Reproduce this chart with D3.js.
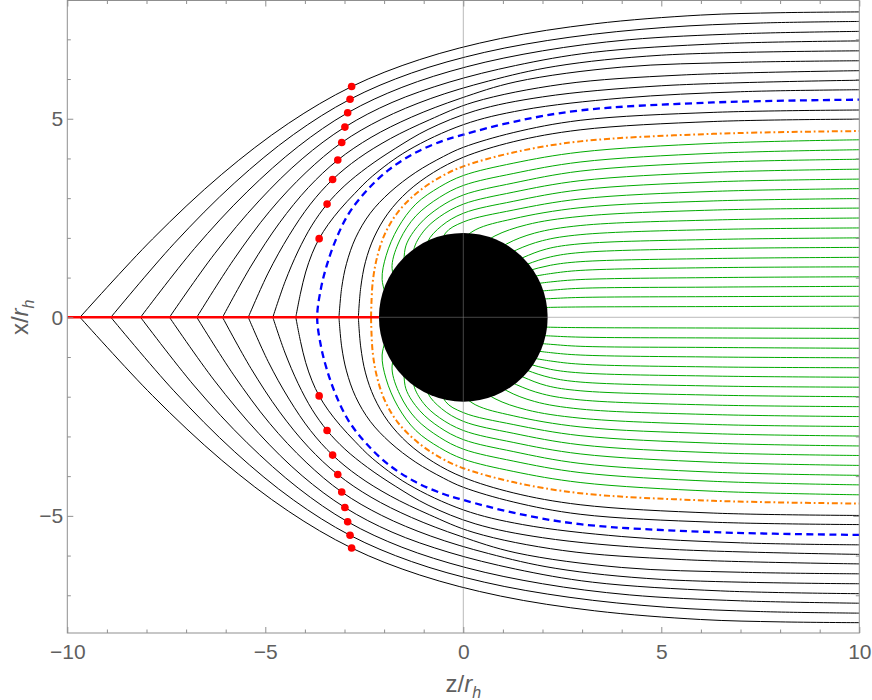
<!DOCTYPE html>
<html>
<head>
<meta charset="utf-8">
<script src="https://cdn.jsdelivr.net/npm/d3@7/dist/d3.min.js"></script>
<style>
	body { margin: 0; background: #fff; }
	text { font-family: "Liberation Sans", Arial, sans-serif; }
</style>
</head>
<body>
<div id="chart"></div>
<script>
// tick values
const zMajor = [-10, -5, 0, 5, 10];
const zMinor = [-9, -8, -7, -6, -4, -3, -2, -1, 1, 2, 3, 4, 6, 7, 8, 9];
const xMajor = [-5, 0, 5];
const xMinor = [-7, -6, -4, -3, -2, -1, 1, 2, 3, 4, 6, 7];

// shadow disk radius (z/r_h units)
const shadowRadius = 2.13;

// upper halves of the scattered rays, [z, x] (lower half is the mirror)
const outerRays = [
	[[-9.68,0],[-7.85,1.97],[-6.10,3.60],[-4.42,4.88],[-2.82,5.81],[-1.10,6.49],[0.94,7.02],[3.31,7.39],[5.99,7.61],[8,7.67],[10,7.69]],
	[[-8.90,0],[-7.31,1.85],[-5.77,3.39],[-4.29,4.60],[-2.86,5.49],[-1.31,6.15],[0.53,6.67],[2.67,7.05],[5.10,7.30],[7.5,7.41],[10,7.45]],
	[[-8.15,0],[-6.79,1.73],[-5.46,3.16],[-4.17,4.30],[-2.92,5.15],[-1.55,5.79],[0.09,6.31],[2.00,6.71],[4.19,6.99],[7,7.14],[10,7.20]],
	[[-7.42,0],[-6.28,1.60],[-5.16,2.93],[-4.07,3.99],[-2.99,4.79],[-1.80,5.41],[-0.36,5.92],[1.32,6.34],[3.26,6.67],[6.5,6.89],[10,6.96]],
	[[-6.73,0],[-5.80,1.45],[-4.89,2.67],[-3.97,3.65],[-3.07,4.40],[-2.06,4.99],[-0.82,5.51],[0.64,5.95],[2.32,6.32],[5,6.60],[10,6.71]],
	[[-6.08,0],[-5.36,1.29],[-4.64,2.38],[-3.91,3.27],[-3.17,3.96],[-2.33,4.53],[-1.31,5.04],[-0.08,5.51],[1.33,5.93],[4,6.30],[7,6.42],[10,6.46]],
	[[-5.43,0],[-4.93,1.11],[-4.40,2.06],[-3.86,2.85],[-3.30,3.47],[-2.65,4.00],[-1.84,4.50],[-0.86,4.97],[0.27,5.42],[2.5,5.87],[5.5,6.10],[10,6.21]],
	[[-4.81,0],[-4.50,0.90],[-4.17,1.67],[-3.82,2.32],[-3.44,2.85],[-2.99,3.32],[-2.42,3.78],[-1.72,4.25],[-0.89,4.73],[0.3,5.2],[2.0,5.55],[5,5.83],[10,5.97]],
	[[-4.23,0],[-4.11,0.61],[-3.98,1.14],[-3.82,1.60],[-3.64,1.98],[-3.41,2.34],[-3.11,2.72],[-2.74,3.12],[-2.30,3.55],[-1.4,4.2],[0,4.85],[1.5,5.22],[4,5.52],[7,5.68],[10,5.73]]
];
const innerRays = [
	[[-3.14,0],[-3.07,0.75],[-2.95,1.35],[-2.72,2.0],[-2.35,2.62],[-1.85,3.15],[-1.2,3.65],[-0.5,4.05],[0,4.28],[1.26,4.65],[2.95,4.96],[6.31,5.16],[10,5.22]],
	[[-2.65,0],[-2.59,0.75],[-2.47,1.4],[-2.25,2.02],[-1.9,2.62],[-1.4,3.17],[-0.75,3.65],[0,4.03],[1.26,4.42],[2.95,4.72],[6.31,4.93],[10,4.99]]
];
const criticalRay = [[-3.69,0],[-3.60,0.7],[-3.45,1.3],[-3.22,1.95],[-2.9,2.6],[-2.45,3.18],[-1.9,3.7],[-1.2,4.15],[-0.5,4.45],[0,4.6],[1.26,4.92],[2.95,5.21],[6.31,5.41],[10,5.48]];
const boundaryRay = [[-2.33,0],[-2.29,0.86],[-2.18,1.5],[-1.98,2.1],[-1.65,2.65],[-1.15,3.15],[-0.55,3.55],[0,3.8],[1.26,4.15],[2.95,4.43],[6.31,4.62],[10,4.69]];

// captured rays (upper half)
const capturedRays = [
	[[10,4.47],[6.31,4.38],[2.95,4.16],[1.26,3.88],[0,3.57],[-0.6,3.28],[-1.2,2.85],[-1.65,2.25],[-1.95,1.55],[-2.05,0.95],[-1.9,0.4]],
	[[10,4.22],[6.31,4.13],[2.95,3.91],[1.26,3.62],[0,3.32],[-0.6,3.02],[-1.2,2.55],[-1.6,1.95],[-1.8,1.3],[-1.7,0.8]],
	[[10,3.98],[6.31,3.90],[2.95,3.68],[1.26,3.38],[0,3.08],[-0.6,2.77],[-1.1,2.35],[-1.45,1.8],[-1.5,1.2]],
	[[10,3.73],[6.31,3.65],[2.95,3.44],[1.26,3.15],[0,2.85],[-0.6,2.53],[-1.0,2.17],[-1.25,1.7],[-1.2,1.2]],
	[[10,3.48],[6.31,3.41],[2.95,3.21],[1.26,2.92],[0,2.62],[-0.55,2.3],[-0.9,1.9],[-0.95,1.4]],
	[[10,3.24],[6.31,3.17],[2.95,2.98],[1.26,2.70],[0,2.40],[-0.45,2.12],[-0.6,1.6]],
	[[10,2.99],[6.31,2.93],[2.95,2.76],[1.26,2.48],[0.3,2.2],[-0.2,1.8]],
	[[10,2.75],[6.31,2.70],[2.95,2.54],[1.6,2.33],[0.8,2.05],[0.3,1.7]],
	[[10,2.50],[6.31,2.45],[2.95,2.31],[1.8,2.12],[1.1,1.85],[0.6,1.5]],
	[[10,2.25],[6.31,2.21],[2.95,2.08],[2.0,1.93],[1.35,1.7],[0.8,1.4]],
	[[10,2.00],[6.31,1.96],[2.95,1.85],[2.1,1.72],[1.5,1.5],[1.0,1.25]],
	[[10,1.76],[6.31,1.73],[2.95,1.63],[2.2,1.52],[1.6,1.33],[1.1,1.1]],
	[[10,1.51],[6.31,1.48],[2.95,1.40],[2.2,1.31],[1.6,1.16],[1.1,1.0]],
	[[10,1.27],[6.31,1.25],[2.95,1.18],[2.2,1.10],[1.5,0.98]],
	[[10,1.02],[6.31,1.00],[2.95,0.95],[2.2,0.89],[1.5,0.80]],
	[[10,0.78],[6.31,0.76],[2.95,0.73],[2.2,0.68],[1.5,0.62]],
	[[10,0.53],[6.31,0.52],[2.95,0.50],[2.2,0.47],[1.5,0.43]],
	[[10,0.28],[6.31,0.27],[2.95,0.26],[2.2,0.25],[1.5,0.23]]
];

// closest-approach points on the outer rays (upper half)
const periapsis = [[-2.82,5.81],[-2.86,5.49],[-2.92,5.15],[-2.99,4.79],[-3.07,4.40],[-3.17,3.96],[-3.30,3.47],[-3.44,2.85],[-3.64,1.98]];

const W = 872, H = 700;
const pL = 67.3, pR = 859.3, pT = 0.5, pB = 633;

const svg = d3.select('#chart').append('svg')
	.attr('width', W)
	.attr('height', H)
	.style('background', '#fff');

const x = d3.scaleLinear().domain([-10, 10]).range([pL, pR]);
const y = d3.scaleLinear().domain([-7.95, 7.99]).range([pB, 0]);

svg.append('clipPath').attr('id', 'plotclip')
	.append('rect')
	.attr('x', pL).attr('y', pT)
	.attr('width', pR - pL).attr('height', pB - pT);

const plot = svg.append('g').attr('clip-path', 'url(#plotclip)');

const upper = d3.line().x(d => x(d[0])).y(d => y(d[1])).curve(d3.curveCatmullRom.alpha(0.5));
const lower = d3.line().x(d => x(d[0])).y(d => y(-d[1])).curve(d3.curveCatmullRom.alpha(0.5));

function drawPair(g, pts, cls) {
	g.append('path').attr('class', cls).attr('d', upper(pts));
	g.append('path').attr('class', cls).attr('d', lower(pts));
}

// captured (green)
const gGreen = plot.append('g')
	.attr('fill', 'none').attr('stroke', '#00aa00').attr('stroke-width', 1);
capturedRays.forEach(r => drawPair(gGreen, r, 'captured'));

// scattered (black)
const gBlack = plot.append('g')
	.attr('fill', 'none').attr('stroke', '#000').attr('stroke-width', 1);
outerRays.forEach(r => drawPair(gBlack, r, 'outer'));
innerRays.forEach(r => drawPair(gBlack, r, 'inner'));

// critical ray, drawn as one path through the axis
const critFull = criticalRay.slice(1).map(d => [d[0], -d[1]]).reverse().concat(criticalRay);
plot.append('path')
	.attr('d', upper(critFull))
	.attr('fill', 'none')
	.attr('stroke', '#0000ff')
	.attr('stroke-width', 2.3)
	.attr('stroke-dasharray', '7,4.5');

// boundary ray (orange dot-dash)
const gOrange = plot.append('g')
	.attr('fill', 'none').attr('stroke', '#ff8000').attr('stroke-width', 2)
	.attr('stroke-dasharray', '6,2.8,1.8,2.8');
drawPair(gOrange, boundaryRay, 'boundary');

// shadow
plot.append('circle')
	.attr('cx', x(0)).attr('cy', y(0))
	.attr('r', x(shadowRadius) - x(0))
	.attr('fill', '#000');

// axes lines through origin
plot.append('line')
	.attr('x1', x(0)).attr('x2', x(0)).attr('y1', y(8)).attr('y2', y(-8))
	.attr('stroke', '#808080').attr('stroke-opacity', 0.55).attr('stroke-width', 1);
plot.append('line')
	.attr('x1', x(-10)).attr('x2', x(10)).attr('y1', y(0)).attr('y2', y(0))
	.attr('stroke', '#808080').attr('stroke-opacity', 0.55).attr('stroke-width', 1);

// caustic segment on the axis
plot.append('line')
	.attr('x1', x(-10)).attr('x2', x(-shadowRadius))
	.attr('y1', y(0)).attr('y2', y(0))
	.attr('stroke', '#ff0000').attr('stroke-width', 2.5);

// periapsis dots
const dots = periapsis.concat(periapsis.map(d => [d[0], -d[1]]));
plot.selectAll('circle.dot')
	.data(dots)
	.enter()
	.append('circle')
	.attr('class', 'dot')
	.attr('cx', d => x(d[0]))
	.attr('cy', d => y(d[1]))
	.attr('r', 3.8)
	.attr('fill', '#ff0000');

// frame + ticks
const frameColor = '#8f8f8f';
const labelColor = '#5f5f5f';

function styleAxis(g) {
	g.select('.domain').remove();
	g.selectAll('line').attr('stroke', frameColor);
	g.selectAll('text').attr('fill', labelColor).style('font-size', '21px');
}

svg.append('g').attr('transform', `translate(0,${pB})`)
	.call(d3.axisBottom(x).tickValues(zMajor).tickSize(-6).tickPadding(11))
	.call(styleAxis);
svg.append('g').attr('transform', `translate(0,${pB})`)
	.call(d3.axisBottom(x).tickValues(zMinor).tickSize(-3.5).tickFormat(''))
	.call(styleAxis);
svg.append('g').attr('transform', `translate(0,${pT})`)
	.call(d3.axisTop(x).tickValues(zMajor).tickSize(-6).tickFormat(''))
	.call(styleAxis);
svg.append('g').attr('transform', `translate(0,${pT})`)
	.call(d3.axisTop(x).tickValues(zMinor).tickSize(-3.5).tickFormat(''))
	.call(styleAxis);
svg.append('g').attr('transform', `translate(${pL},0)`)
	.call(d3.axisLeft(y).tickValues(xMajor).tickSize(-6).tickPadding(4))
	.call(styleAxis);
svg.append('g').attr('transform', `translate(${pL},0)`)
	.call(d3.axisLeft(y).tickValues(xMinor).tickSize(-3.5).tickFormat(''))
	.call(styleAxis);
svg.append('g').attr('transform', `translate(${pR},0)`)
	.call(d3.axisRight(y).tickValues(xMajor).tickSize(-6).tickFormat(''))
	.call(styleAxis);
svg.append('g').attr('transform', `translate(${pR},0)`)
	.call(d3.axisRight(y).tickValues(xMinor).tickSize(-3.5).tickFormat(''))
	.call(styleAxis);

svg.append('rect')
	.attr('x', pL).attr('y', pT)
	.attr('width', pR - pL).attr('height', pB - pT)
	.attr('fill', 'none').attr('stroke', frameColor).attr('stroke-width', 1);

// axis titles
const zTitle = svg.append('text')
	.attr('x', x(0)).attr('y', 692)
	.attr('text-anchor', 'middle')
	.attr('fill', labelColor)
	.style('font-size', '24px');
zTitle.append('tspan').text('z/');
zTitle.append('tspan').style('font-style', 'italic').text('r');
zTitle.append('tspan').style('font-style', 'italic').style('font-size', '16px').attr('dy', 6).text('h');

const xTitle = svg.append('text')
	.attr('transform', `translate(28,${y(0)}) rotate(-90)`)
	.attr('text-anchor', 'middle')
	.attr('fill', labelColor)
	.style('font-size', '24px');
xTitle.append('tspan').text('x/');
xTitle.append('tspan').style('font-style', 'italic').text('r');
xTitle.append('tspan').style('font-style', 'italic').style('font-size', '16px').attr('dy', 6).text('h');
</script>
</body>
</html>
